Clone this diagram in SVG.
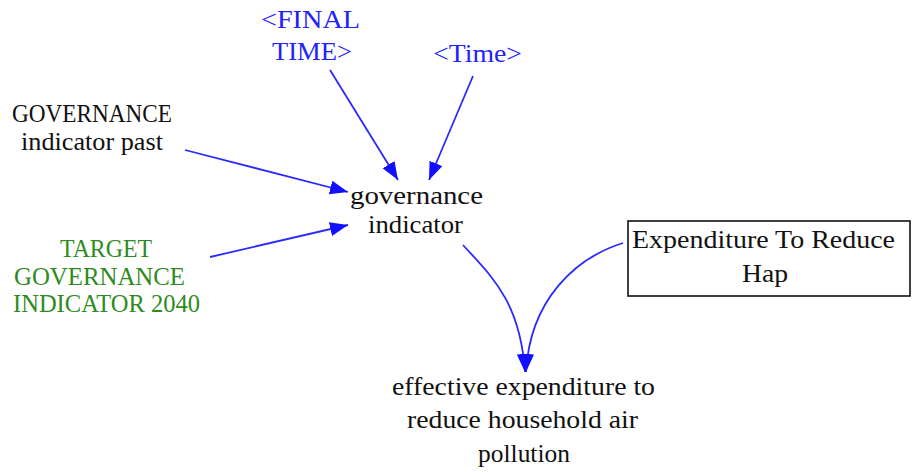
<svg xmlns="http://www.w3.org/2000/svg" width="912" height="472" viewBox="0 0 912 472" font-family="'Liberation Serif','Times New Roman',serif">
<defs>
<style>
text{font-family:"Liberation Serif","Times New Roman",serif;font-size:25px}
.b{fill:#2222ff}
.k{fill:#111111}
.g{fill:#2e8b1e}
.c{fill:none;stroke:#2a2aff;stroke-width:1.8}
</style>
<marker id="ah" markerUnits="userSpaceOnUse" markerWidth="20" markerHeight="16" refX="18" refY="7" orient="auto">
<path d="M0,0 L18,7 L0,14 z" fill="#1010ff"/>
</marker>
</defs>
<rect width="912" height="472" fill="#ffffff"/>
<g id="connectors">
<path class="c" d="M330,70 L398,180" marker-end="url(#ah)"/>
<path class="c" d="M473,76 L429,180" marker-end="url(#ah)"/>
<path class="c" d="M185,150 L348,192" marker-end="url(#ah)"/>
<path class="c" d="M210,257 L348,225" marker-end="url(#ah)"/>
<path class="c" d="M463,245 C490,275 520,300 525,372" marker-end="url(#ah)"/>
<path class="c" d="M623,243 C575,258 530,300 526,372" marker-end="url(#ah)"/>
</g>
<g id="final-time">
<text class="b" x="261" y="28" textLength="99" lengthAdjust="spacingAndGlyphs">&lt;FINAL</text>
<text class="b" x="272" y="60" textLength="80" lengthAdjust="spacingAndGlyphs">TIME&gt;</text>
</g>
<g id="time">
<text class="b" x="433" y="62" textLength="89" lengthAdjust="spacingAndGlyphs">&lt;Time&gt;</text>
</g>
<g id="governance-indicator-past">
<text class="k" x="12" y="122" textLength="160" lengthAdjust="spacingAndGlyphs">GOVERNANCE</text>
<text class="k" x="21" y="150" textLength="142" lengthAdjust="spacingAndGlyphs">indicator past</text>
</g>
<g id="governance-indicator">
<text class="k" x="350" y="204" textLength="133" lengthAdjust="spacingAndGlyphs">governance</text>
<text class="k" x="368" y="233" textLength="95" lengthAdjust="spacingAndGlyphs">indicator</text>
</g>
<g id="target-governance-indicator-2040">
<text class="g" x="60" y="257" textLength="92" lengthAdjust="spacingAndGlyphs">TARGET</text>
<text class="g" x="14" y="285" textLength="171" lengthAdjust="spacingAndGlyphs">GOVERNANCE</text>
<text class="g" x="13" y="312" textLength="187" lengthAdjust="spacingAndGlyphs">INDICATOR 2040</text>
</g>
<g id="expenditure-to-reduce-hap">
<rect x="628" y="221" width="282" height="75" fill="none" stroke="#111111" stroke-width="1.6"/>
<text class="k" x="632" y="248" textLength="263" lengthAdjust="spacingAndGlyphs">Expenditure To Reduce</text>
<text class="k" x="742" y="282" textLength="46" lengthAdjust="spacingAndGlyphs">Hap</text>
</g>
<g id="effective-expenditure">
<text class="k" x="392" y="395" textLength="263" lengthAdjust="spacingAndGlyphs">effective expenditure to</text>
<text class="k" x="407" y="428" textLength="231" lengthAdjust="spacingAndGlyphs">reduce household air</text>
<text class="k" x="478" y="462" textLength="92" lengthAdjust="spacingAndGlyphs">pollution</text>
</g>
</svg>
